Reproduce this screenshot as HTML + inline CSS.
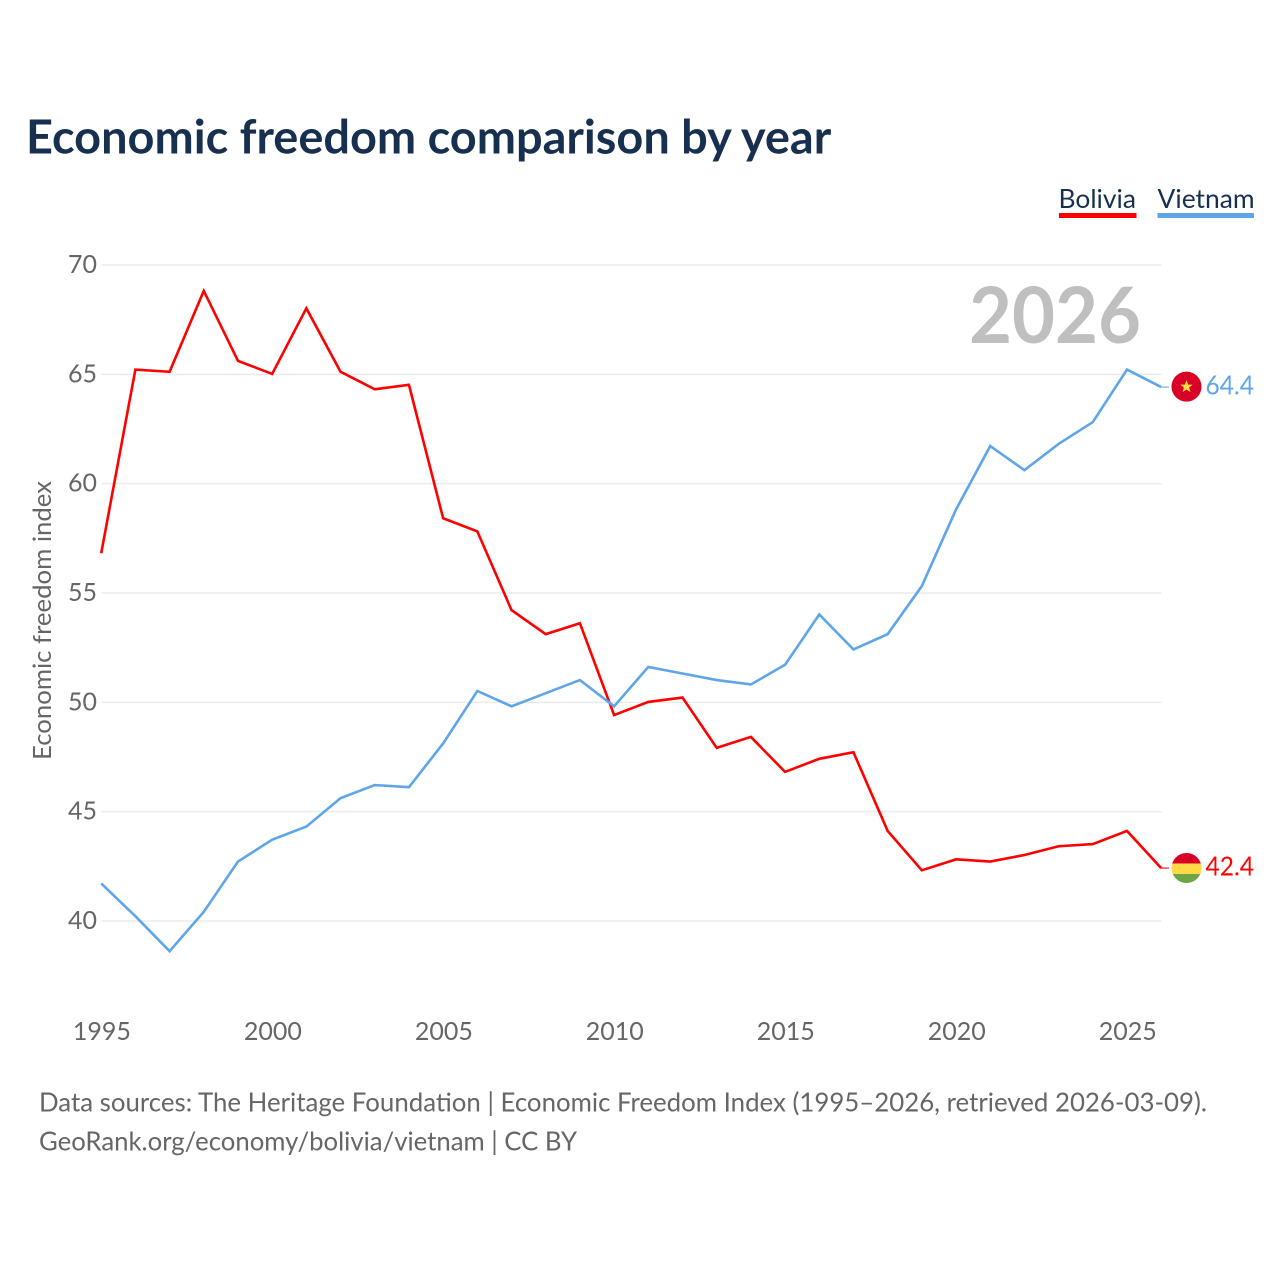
<!DOCTYPE html>
<html>
<head>
<meta charset="utf-8">
<title>Economic freedom comparison by year</title>
<style>
html,body{margin:0;padding:0;background:#fff;}
svg{display:block;}
text{font-family:"Lato","Liberation Sans",sans-serif;}
</style>
</head>
<body>
<svg id="chart" width="1280" height="1280" viewBox="0 0 1280 1280" xmlns="http://www.w3.org/2000/svg">
  <rect width="1280" height="1280" fill="#fff"/>
  <text x="26" y="153.500" font-size="46.900" font-weight="700" fill="#18304f">Economic freedom comparison by year</text>
  <g id="legend">
    <g>
      <text x="1058.500" y="208" font-size="26.400" fill="#18304f">Bolivia</text>
      <rect x="1059" y="213" width="77.500" height="5" fill="#ff0000"/>
    </g>
    <g>
      <text x="1157.500" y="208" font-size="26.400" fill="#18304f">Vietnam</text>
      <rect x="1157.500" y="213" width="96.500" height="5" fill="#5fa5ea"/>
    </g>
  </g>
  <g id="grid"></g>
  <text x="969" y="343" font-size="78" font-weight="700" fill="#bfbfbf" textLength="172" lengthAdjust="spacingAndGlyphs">2026</text>
  <text transform="translate(51,760) rotate(-90)" x="0" y="0" font-size="25" fill="#666" textLength="279" lengthAdjust="spacingAndGlyphs">Economic freedom index</text>
  <g id="yticks"></g>
  <g id="xticks"></g>
  <g id="series" transform="translate(0,-0.4)"></g>
  <g id="ends"></g>
  <text x="39" y="1111.500" font-size="26" fill="#666" textLength="1168" lengthAdjust="spacingAndGlyphs">Data sources: The Heritage Foundation | Economic Freedom Index (1995–2026, retrieved 2026-03-09).</text>
  <text x="39" y="1150.500" font-size="26" fill="#666" textLength="538" lengthAdjust="spacingAndGlyphs">GeoRank.org/economy/bolivia/vietnam | CC BY</text>
</svg>
<script>
var years = [1995,1996,1997,1998,1999,2000,2001,2002,2003,2004,2005,2006,2007,2008,2009,2010,2011,2012,2013,2014,2015,2016,2017,2018,2019,2020,2021,2022,2023,2024,2025,2026];
var bolivia = [56.8,65.2,65.1,68.8,65.6,65.0,68.0,65.1,64.3,64.5,58.4,57.8,54.2,53.1,53.6,49.4,50.0,50.2,47.9,48.4,46.8,47.4,47.7,44.1,42.3,42.8,42.7,43.0,43.4,43.5,44.1,42.4];
var vietnam = [41.7,40.2,38.6,40.4,42.7,43.7,44.3,45.6,46.2,46.1,48.1,50.5,49.8,50.4,51.0,49.8,51.6,51.3,51.0,50.8,51.7,54.0,52.4,53.1,55.3,58.8,61.7,60.6,61.8,62.8,65.2,64.4];
var yTickValues = [40,45,50,55,60,65,70];
var xTickValues = [1995,2000,2005,2010,2015,2020,2025];

var NS = 'http://www.w3.org/2000/svg';
function xScale(year){ return 101.2 + (year - 1995) * (1161.2 - 101.2) / 31; }
function yScale(v){ return 921 + (v - 40) * (265 - 921) / 30; }
function make(tag, attrs, parent){
  var el = document.createElementNS(NS, tag);
  for (var k in attrs) el.setAttribute(k, attrs[k]);
  parent.appendChild(el);
  return el;
}
var grid = document.getElementById('grid');
var yticks = document.getElementById('yticks');
var xticks = document.getElementById('xticks');
var seriesG = document.getElementById('series');
var ends = document.getElementById('ends');

yTickValues.forEach(function(v){
  var line = make('line', {x1:101.5, x2:1161.5, y1:yScale(v), y2:yScale(v), stroke:'#ebebeb', 'stroke-width':1.5}, grid);
  
  
  var t = make('text', {x:97, y:yScale(v) + 8, 'text-anchor':'end', 'font-size':25, fill:'#666'}, yticks);
  
  
  t.textContent = v;
});
xTickValues.forEach(function(y){
  var t = make('text', {x:xScale(y) + 0.7, y:1040, 'text-anchor':'middle', 'font-size':25, fill:'#666'}, xticks);
  
  
  t.textContent = y;
});

function drawSeries(name, values, color){
  var pts = values.map(function(v, i){ return xScale(years[i]).toFixed(2) + ',' + yScale(v).toFixed(2); }).join(' ');
  var line = make('polyline', {points:pts, fill:'none', stroke:color, 'stroke-width':2.6, 'stroke-linejoin':'miter'}, seriesG);
  
  
  var last = values[values.length - 1];
  var ly = yScale(last);
  var conn = make('line', {x1:1161.2, x2:1169, y1:ly, y2:ly, stroke:color, 'stroke-width':1.5, opacity:0.7}, seriesG);
  
  
  var t = make('text', {x:1205.5, y:ly + 7, 'font-size':26, fill:color, textLength:48.5, lengthAdjust:'spacingAndGlyphs'}, ends);
  
  
  t.textContent = last.toFixed(1);
  return ly;
}
var by = drawSeries('bolivia', bolivia, '#ff0000');
var vy = drawSeries('vietnam', vietnam, '#5fa5ea');

// Vietnam flag marker
var vf = make('g', {transform:'translate(1186.5,' + (vy - 0.8) + ')'}, ends);


make('circle', {r:15, cx:0, cy:0, fill:'#d80027'}, vf);
make('polygon', {points:'0,-6.500 1.700,-2 6.300,-2 2.600,0.900 4,5.500 0,2.800 -4,5.500 -2.600,0.900 -6.300,-2 -1.700,-2', fill:'#ffda44'}, vf);

// Bolivia flag marker
var defs = make('defs', {}, ends);
var clip = make('clipPath', {id:'bo-clip'}, defs);
make('circle', {r:15, cx:1186.5, cy:by - 0.5}, clip);
var bf = make('g', {'clip-path':'url(#bo-clip)'}, ends);


make('rect', {x:1171, y:by - 15.5, width:31, height:10.5, fill:'#d80027'}, bf);
make('rect', {x:1171, y:by - 5, width:31, height:10.500, fill:'#ffda44'}, bf);
make('rect', {x:1171, y:by + 5.5, width:31, height:9, fill:'#6da544'}, bf);
</script>
</body>
</html>
